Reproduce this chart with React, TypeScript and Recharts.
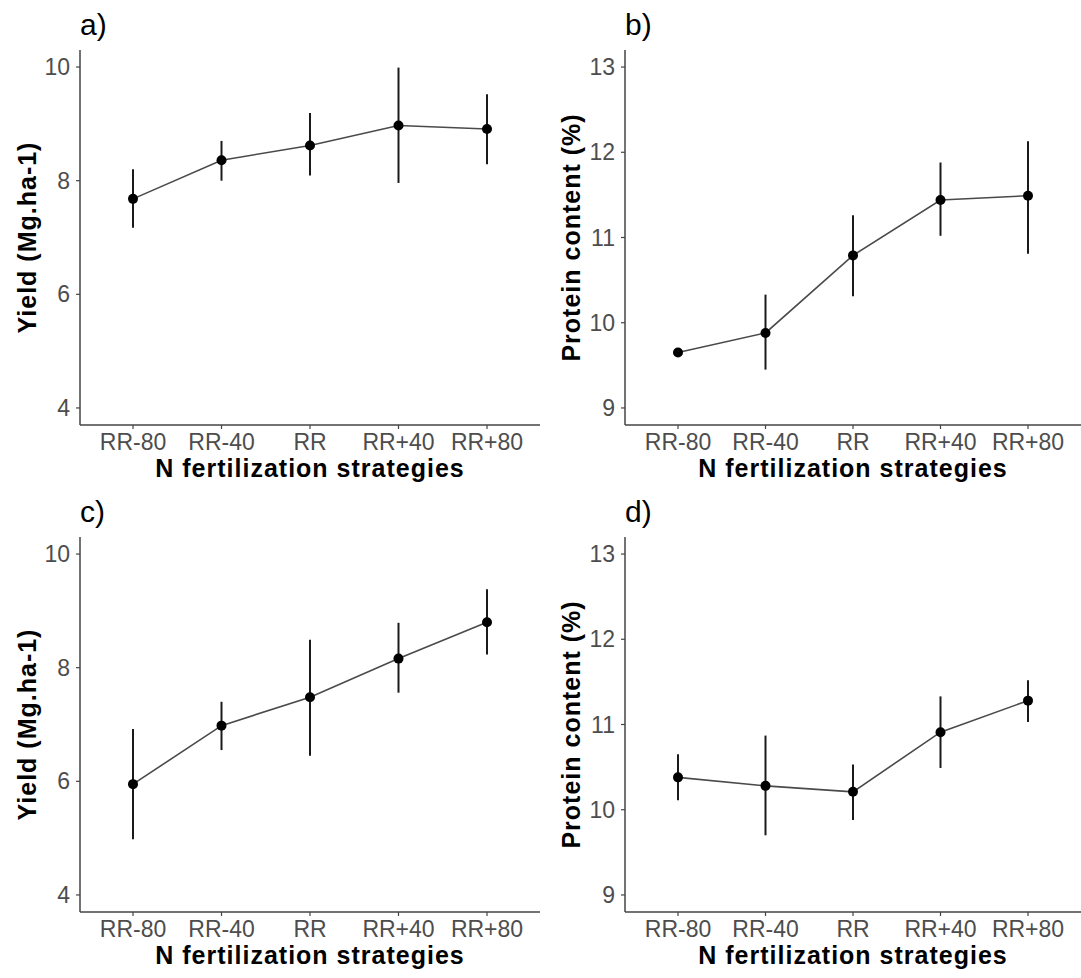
import { LineChart, Line, XAxis, YAxis, ErrorBar } from "recharts";

// N fertilization strategies (x categories)
const strategies = ["RR-80", "RR-40", "RR", "RR+40", "RR+80"];

// a) yield, first site
const yieldA = [7.68, 8.36, 8.62, 8.97, 8.91];
const yieldALow = [7.17, 8.0, 8.09, 7.96, 8.29];
const yieldAHigh = [8.2, 8.7, 9.19, 9.99, 9.52];

// b) protein, first site
const proteinB = [9.65, 9.88, 10.79, 11.44, 11.49];
const proteinBLow = [9.63, 9.45, 10.31, 11.02, 10.81];
const proteinBHigh = [9.67, 10.33, 11.26, 11.88, 12.13];

// c) yield, second site
const yieldC = [5.95, 6.98, 7.48, 8.16, 8.8];
const yieldCLow = [4.98, 6.55, 6.45, 7.56, 8.23];
const yieldCHigh = [6.92, 7.4, 8.49, 8.79, 9.38];

// d) protein, second site
const proteinD = [10.38, 10.28, 10.21, 10.91, 11.28];
const proteinDLow = [10.11, 9.7, 9.88, 10.49, 11.03];
const proteinDHigh = [10.65, 10.87, 10.53, 11.33, 11.52];

const yieldTicks = [4, 6, 8, 10];
const proteinTicks = [9, 10, 11, 12, 13];

const FONT = '"Liberation Sans", Arial, Helvetica, sans-serif';

function buildRows(mean: number[], low: number[], high: number[]) {
  return strategies.map((s, i) => ({
    strategy: s,
    mean: mean[i],
    err: [mean[i] - low[i], high[i] - mean[i]],
  }));
}

interface PanelProps {
  tag: string;
  rows: { strategy: string; mean: number; err: number[] }[];
  yLabel: string;
  domain: [number, number];
  ticks: number[];
  left: number;
  top: number;
  width: number;
  height: number;
  marginTop: number;
  axisWidth: number;
  labelOffset: number;
}

function Panel({
  tag,
  rows,
  yLabel,
  domain,
  ticks,
  left,
  top,
  width,
  height,
  marginTop,
  axisWidth,
  labelOffset,
}: PanelProps) {
  const titleStyle = {
    fontSize: 25,
    fontWeight: 700,
    fill: "#000",
    fontFamily: FONT,
    letterSpacing: 1,
  };

  return (
    <div style={{ position: "absolute", left, top, width, height }}>
      <LineChart
        width={width}
        height={height}
        data={rows}
        margin={{ top: marginTop, right: 0, bottom: 0, left: 0 }}
      >
        <XAxis
          dataKey="strategy"
          scale="point"
          padding={{ left: 53, right: 53 }}
          interval={0}
          height={65}
          tickSize={4}
          tickMargin={5}
          tick={{ fontSize: 23, fill: "#4d4d4d", fontFamily: FONT }}
          axisLine={{ stroke: "#444", strokeWidth: 1.5 }}
          tickLine={{ stroke: "#444", strokeWidth: 1.2 }}
          label={{
            value: "N fertilization strategies",
            position: "insideBottom",
            offset: 13,
            style: titleStyle,
          }}
        />
        <YAxis
          type="number"
          domain={domain}
          ticks={ticks}
          allowDataOverflow
          width={axisWidth}
          tickSize={4}
          tickMargin={6}
          tick={{ fontSize: 23, fill: "#4d4d4d", fontFamily: FONT }}
          axisLine={{ stroke: "#444", strokeWidth: 1.5 }}
          tickLine={{ stroke: "#444", strokeWidth: 1.2 }}
          label={{
            value: yLabel,
            angle: -90,
            position: "insideLeft",
            offset: labelOffset,
            style: { ...titleStyle, textAnchor: "middle" },
          }}
        />
        <Line
          dataKey="mean"
          type="linear"
          stroke="#4a4a4a"
          strokeWidth={1.6}
          dot={{ r: 5, fill: "#000", stroke: "#000", strokeWidth: 0 }}
          activeDot={false}
          isAnimationActive={false}
        >
          <ErrorBar
            dataKey="err"
            direction="y"
            width={0}
            stroke="#1a1a1a"
            strokeWidth={2}
            isAnimationActive={false}
          />
        </Line>
      </LineChart>
      <div
        style={{
          position: "absolute",
          left: axisWidth,
          top: marginTop - 40,
          fontSize: 30,
          lineHeight: "30px",
          fontFamily: FONT,
          color: "#000",
        }}
      >
        {tag}
      </div>
    </div>
  );
}

export default function App() {
  const yieldDomain: [number, number] = [3.7, 10.3];
  const proteinDomain: [number, number] = [8.8, 13.2];

  return (
    <div
      style={{
        position: "absolute",
        left: 0,
        top: 0,
        width: 1081,
        height: 978,
        background: "#fff",
      }}
    >
      <Panel
        tag="a)"
        rows={buildRows(yieldA, yieldALow, yieldAHigh)}
        yLabel="Yield (Mg.ha-1)"
        domain={yieldDomain}
        ticks={yieldTicks}
        left={0}
        top={0}
        width={540}
        height={490}
        marginTop={50}
        axisWidth={80}
        labelOffset={27}
      />
      <Panel
        tag="b)"
        rows={buildRows(proteinB, proteinBLow, proteinBHigh)}
        yLabel="Protein content (%)"
        domain={proteinDomain}
        ticks={proteinTicks}
        left={540}
        top={0}
        width={541}
        height={490}
        marginTop={50}
        axisWidth={85}
        labelOffset={31}
      />
      <Panel
        tag="c)"
        rows={buildRows(yieldC, yieldCLow, yieldCHigh)}
        yLabel="Yield (Mg.ha-1)"
        domain={yieldDomain}
        ticks={yieldTicks}
        left={0}
        top={490}
        width={540}
        height={487}
        marginTop={47}
        axisWidth={80}
        labelOffset={27}
      />
      <Panel
        tag="d)"
        rows={buildRows(proteinD, proteinDLow, proteinDHigh)}
        yLabel="Protein content (%)"
        domain={proteinDomain}
        ticks={proteinTicks}
        left={540}
        top={490}
        width={541}
        height={487}
        marginTop={47}
        axisWidth={85}
        labelOffset={31}
      />
    </div>
  );
}
